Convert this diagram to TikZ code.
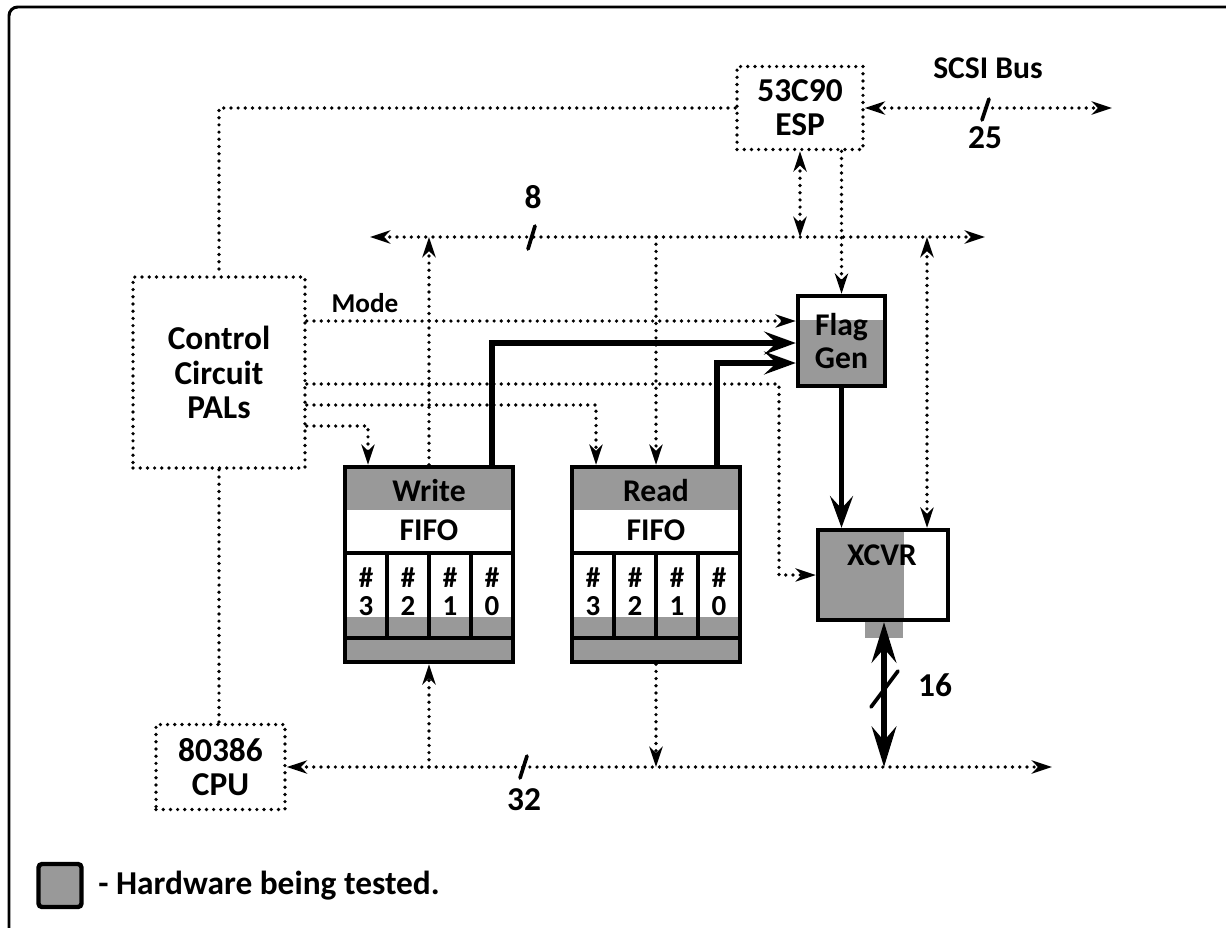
\documentclass[tikz,border=0pt]{standalone}
\usepackage{fontspec}
\setmainfont{Carlito}
\usetikzlibrary{arrows.meta,calc}
\newcommand\fbig{\fontsize{19}{19.5}\selectfont\bfseries}
\newcommand\fmed{\fontsize{18}{19}\selectfont\bfseries}
\newcommand\fsml{\fontsize{15.5}{16}\selectfont\bfseries}
\newcommand\fcell{\fontsize{16.5}{16}\selectfont\bfseries}
\begin{document}
\begin{tikzpicture}[x=0.02cm,y=-0.02cm,
  dotline/.style={line width=2.1pt,line cap=round,dash pattern=on 0pt off 4.1pt},
  dtip/.tip={Stealth[length=11.5pt,width=7.5pt,inset=3.5pt]},
  ttip/.tip={Stealth[length=18pt,width=13pt,inset=7pt]},
  btip/.tip={Stealth[length=23pt,width=14pt,inset=8pt]},
  dotbox/.style={draw,dotline,inner sep=0pt,align=center,font=\fbig},
  hwbox/.style={draw,line width=2.5pt,inner sep=0pt},
  hwfill/.style={fill=black!40},
  thickline/.style={line width=2.9pt},
  inline/.style={line width=2.3pt},
  slash/.style={line width=2.1pt,line cap=round},
  lbl/.style={inner sep=0pt,font=\fbig}]
\useasboundingbox (0,0) rectangle (1226,927);
% frame
\draw[line width=1.7pt,rounded corners=5] (9,940) -- (9,7) -- (1240,7);

% shaded parts
\fill[hwfill] (345,467) rectangle (513,510);
\fill[hwfill] (345,617) rectangle (513,662);
\fill[hwfill] (572,467) rectangle (740,510);
\fill[hwfill] (572,617) rectangle (740,662);
\fill[hwfill] (798,320) rectangle (885,387);
\fill[hwfill] (818,530) rectangle (904,620);
\fill[hwfill] (865,620) rectangle (903,638);

% FIFO internal lines
\draw[inline] (345,553) -- (513,553) (345,638) -- (513,638);
\draw[inline] (387,553) -- (387,638) (429,553) -- (429,638) (471,553) -- (471,638);
\draw[inline] (572,553) -- (740,553) (572,638) -- (740,638);
\draw[inline] (614,553) -- (614,638) (656,553) -- (656,638) (698,553) -- (698,638);

% boxes
\node[dotbox,minimum width=2.52cm,minimum height=1.66cm] (esp) at (800,108) {53C90\\ESP};
\node[dotbox,minimum width=3.44cm,minimum height=3.82cm] (ctrl) at (219,372.5) {Control\\Circuit\\PALs};
\node[dotbox,minimum width=2.58cm,minimum height=1.70cm] (cpu) at (220.5,767) {80386\\CPU};
\node[hwbox,minimum width=1.74cm,minimum height=1.8cm,align=center,font=\fmed] (flag) at (841.5,341) {Flag\\Gen};
\node[hwbox,minimum width=2.6cm,minimum height=1.8cm] (xcvr) at (883,575) {};
\node[hwbox,minimum width=3.36cm,minimum height=3.9cm] (wfifo) at (429,564.5) {};
\node[hwbox,minimum width=3.36cm,minimum height=3.9cm] (rfifo) at (656,564.5) {};

% texts in boxes
\node[lbl,font=\fmed] (xt) at (882,555) {XCVR};
\node[lbl,font=\fmed] (wt1) at (429,491) {Write};
\node[lbl,font=\fmed] (wt2) at (429,530) {FIFO};
\node[lbl,font=\fmed] (rt1) at (656,491) {Read};
\node[lbl,font=\fmed] (rt2) at (656,530) {FIFO};
\foreach \x/\d in {366/3,408/2,450/1,492/0}{
  \node[lbl,font=\fcell] (wh\d) at (\x,578) {\#};
  \node[lbl,font=\fcell] (wd\d) at (\x,606) {\d};}
\foreach \x/\d in {593/3,635/2,677/1,719/0}{
  \node[lbl,font=\fcell] (rh\d) at (\x,578) {\#};
  \node[lbl,font=\fcell] (rd\d) at (\x,606) {\d};}

% coordinates
\coordinate (b8L) at (370,237);
\coordinate (b8R) at (985,237);
\coordinate (scsiR) at (1112,108);
\coordinate (b32R) at (1052,767);
\coordinate (xcTop) at (927,237);
\coordinate (xturn) at (779,384);
\coordinate (x16) at (884,767);

% slashes (under lines)
\draw[slash] (871,707) -- (898,671);

% dotted connectors
\draw[dotline] (esp.west) -| (ctrl.north);
\draw[dotline] (ctrl.south) -- (ctrl.south |- cpu.north);
\draw[dotline,dtip-dtip] (esp.east) -- (scsiR);
\draw[dotline,dtip-dtip] (b8L) -- (b8R);
\draw[dotline,dtip-dtip] (esp.south) -- (esp.south |- b8L);
\draw[dotline,-dtip] (flag.north |- esp.south) -- (flag.north);
\draw[dotline,-dtip] (wfifo.north) -- (wfifo.north |- b8L);
\draw[dotline,-dtip] (rfifo.north |- b8L) -- (rfifo.north);
\draw[dotline,dtip-dtip] (xcTop) -- (xcTop |- xcvr.north);
\draw[dotline,-dtip] (ctrl.east |- 0,321) -- (flag.west |- 0,321);
\draw[dotline,-dtip] (ctrl.east |- xturn) -- (xturn) |- (xcvr.west);
\draw[dotline,-dtip] (ctrl.east |- 0,405) -| (rfifo.north -| 596,0);
\draw[dotline,-dtip] (ctrl.east |- 0,426) -| (wfifo.north -| 368,0);
\draw[dotline,dtip-dtip] (cpu.east) -- (b32R);
\draw[dotline,-dtip] (wfifo.south |- b32R) -- (wfifo.south);
\draw[dotline,-dtip] (rfifo.south) -- (rfifo.south |- b32R);

% thick connectors
\draw[thickline,-ttip] (wfifo.north -| 492,0) |- (flag.west |- 0,343);
\draw[thickline,-ttip] (rfifo.north -| 717,0) |- (flag.west |- 0,363);
\draw[thickline,-ttip] (flag.south) -- (flag.south |- xcvr.north);
\draw[line width=3.2pt,btip-btip] (x16 |- xcvr.south) -- (x16);

% slashes
\draw[slash] (982,120) -- (989,99);
\draw[slash] (528,249) -- (535,226);
\draw[slash] (520,778) -- (527,756);

% labels
\node[lbl] (l8) at (533,197) {8};
\node[lbl] (l25) at (985,138) {25};
\node[lbl,font=\fmed] (lscsi) at (988,68) {SCSI Bus};
\node[lbl] (l32) at (524,800) {32};
\node[lbl] (l16) at (935,685) {16};
\node[lbl,font=\fsml] (lmode) at (365,303) {Mode};

% legend
\node[hwbox,hwfill,minimum size=0.86cm,rounded corners=2pt] (leg) at (60,885.5) {};
\node[lbl,anchor=west] (legt) at (98,886) {- Hardware being tested.};
\end{tikzpicture}
\end{document}
